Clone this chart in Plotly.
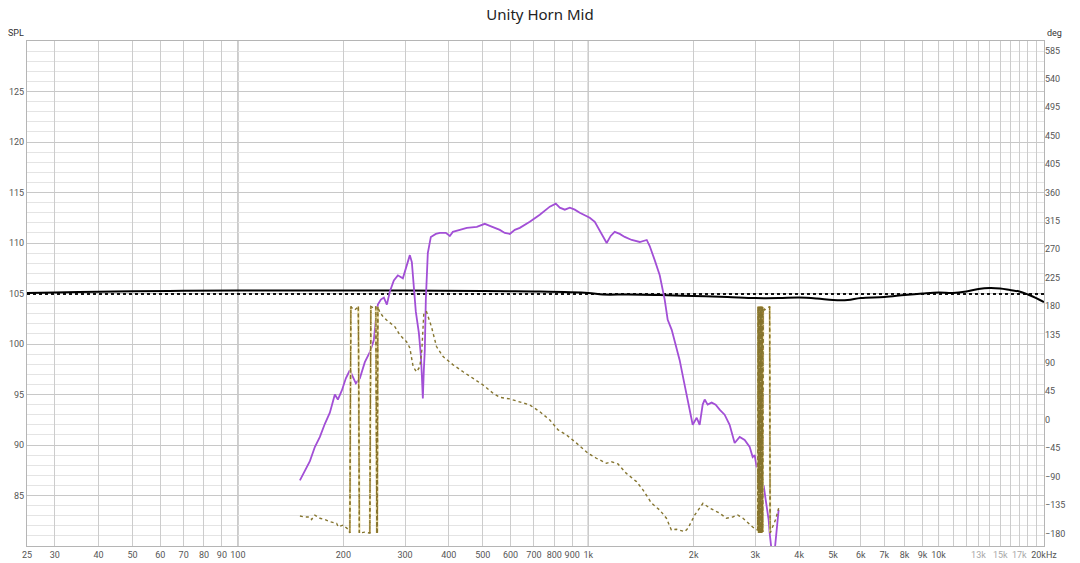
import plotly.graph_objects as go

# ---------------- data ----------------
spl_freq = [150.3, 155.3, 160.5, 165.8, 171.4, 177.1, 183.0, 189.1, 192.9, 198.0,
            203.3, 208.7, 212.9, 217.1, 222.9, 230.3, 238.0, 244.4, 247.6, 250.9,
            255.9, 261.0, 266.2, 271.5, 278.7, 286.1, 295.7, 303.6, 309.6, 313.7,
            317.8, 322.0, 328.5, 332.8, 335.0, 337.2, 339.4, 341.6, 343.9, 346.2,
            348.4, 355.4, 367.3, 377.0, 392.2, 402.6, 410.7, 430.0, 450.2, 480.8,
            506.7, 523.6, 541.1, 559.2, 577.9, 597.2, 617.2, 637.8, 681.1, 727.4,
            776.8, 808.0, 829.5, 857.2, 885.8, 915.4, 945.9, 1010, 1044, 1078,
            1107, 1129, 1159, 1190, 1230, 1271, 1331, 1403, 1469, 1498,
            1548, 1600, 1653, 1686, 1731, 1777, 1824, 1873, 1910, 1948,
            1987, 2040, 2080, 2122, 2150, 2192, 2251, 2311, 2372, 2451,
            2533, 2618, 2706, 2796, 2890, 2947, 2986, 3026, 3065, 3086,
            3106, 3147, 3168, 3210, 3231, 3273, 3295, 3339, 3405, 3450, 3496]
spl_db = [86.5, 87.5, 88.4, 89.8, 90.8, 92.1, 93.2, 95.0, 94.5, 95.4,
          96.6, 97.4, 96.8, 96.1, 96.6, 98.2, 99.2, 100.4, 102.4, 103.9,
          104.4, 104.6, 103.9, 105.2, 106.3, 106.8, 106.5, 107.7, 108.8, 108.1,
          105.3, 103.2, 101.1, 98.9, 96.9, 94.6, 97.4, 99.4, 104.4, 106.8,
          109.0, 110.6, 110.9, 111.0, 111.0, 110.7, 111.1, 111.3, 111.5, 111.6,
          111.9, 111.7, 111.5, 111.3, 111.0, 110.9, 111.3, 111.5, 112.1, 112.8,
          113.6, 113.9, 113.5, 113.3, 113.5, 113.3, 113.0, 112.5, 112.1, 111.3,
          110.5, 110.0, 110.7, 111.1, 110.9, 110.6, 110.3, 110.1, 110.3, 109.7,
          108.3, 106.8, 104.4, 102.4, 101.4, 99.9, 98.4, 96.4, 95.0, 93.5,
          92.0, 92.7, 92.0, 94.0, 94.5, 94.0, 94.2, 94.0, 93.5, 93.0,
          92.0, 90.2, 90.8, 90.5, 89.8, 88.8, 89.0, 87.8, 88.0, 86.5,
          87.5, 85.3, 86.0, 84.6, 83.9, 82.6, 81.3, 79.5, 79.5, 81.3, 83.6]

phase_freq = [150.3, 155.3, 160.5, 162.3, 165.8, 171.4, 177.1, 183.0, 191.3, 193.3,
              199.7, 206.4, 208.7, 210.1, 212.9, 215.7, 218.5, 220.7, 222.2, 230.3,
              238.0, 239.6, 244.4, 247.6, 249.2, 250.0, 250.9, 254.2, 259.2, 265.6,
              280.5, 289.9, 302.9, 309.6, 316.4, 323.5, 330.6, 335.0, 339.4, 345.5,
              357.0, 368.9, 385.3, 411.5, 439.4, 469.2, 501.1, 535.1, 559.2, 597.2,
              637.8, 681.1, 727.4, 776.8, 820.3, 866.9, 925.7, 998.7, 1055, 1127,
              1165, 1216, 1285, 1373, 1433, 1515, 1600, 1672, 1727, 1785,
              1885, 1926, 2013, 2126, 2222, 2372, 2479, 2584, 2670, 2760,
              2947, 3045, 3055, 3065, 3075, 3086, 3096, 3106, 3116, 3127,
              3137, 3147, 3158, 3189, 3231, 3273, 3295, 3306, 3361, 3427, 3496]
phase_deg = [-152.5, -154, -154, -158, -151, -156, -158, -161.5, -164, -169.5,
             -167, -173.5, -179.5, 179.5, 175.5, 174, 177, 179.5, -179.5, -178,
             -179.5, 179.5, 177, 179.5, -179.5, -179, 179, 170, 164, 158,
             147.4, 134.3, 123.7, 113.7, 84, 76, 84, 110, 169, 171,
             147, 116, 100, 87, 76, 66, 55, 42, 35.6, 33,
             28.6, 23.4, 12.8, -0.4, -16, -24, -37, -53, -61, -69,
             -66.5, -70, -85, -98, -111, -132, -143, -156, -174.6, -173.5,
             -177.3, -172, -151, -132.4, -140, -148, -156, -154, -151, -155.6,
             -170, -175, 179, -179, 179, -179, 179, -179, 179, -179,
             179, -178, 178, 174, 176, 178, 179.5, -179.5, -170, -158, -140]

ref_freq = [25, 30, 40, 50, 70, 100, 150, 200, 300, 500, 700, 1000, 1100, 1300,
            1600, 2000, 2500, 3000, 3500, 4000, 4500, 5000, 5500, 6000, 7000,
            8000, 9000, 10000, 11000, 12000, 13000, 14000, 15000, 16000, 17000,
            18000, 19000, 20000]
ref_db = [105.05, 105.1, 105.18, 105.22, 105.27, 105.3, 105.3, 105.3, 105.3, 105.25,
          105.2, 105.05, 104.9, 104.9, 104.85, 104.75, 104.65, 104.55, 104.55, 104.6,
          104.5, 104.35, 104.35, 104.55, 104.65, 104.85, 105.0, 105.1, 105.05, 105.2,
          105.45, 105.55, 105.5, 105.35, 105.2, 104.9, 104.55, 104.15]

target_freq = [25, 20000]
target_db = [104.95, 104.95]

x_tick_vals = [25, 30, 40, 50, 60, 70, 80, 90, 100, 200, 300, 400, 500, 600, 700,
               800, 900, 1000, 2000, 3000, 4000, 5000, 6000, 7000, 8000, 9000,
               10000, 11000, 12000, 13000, 14000, 15000, 16000, 17000, 18000,
               19000, 20000]
GRAY = '<span style="color:#a8a8a8">{}</span>'
x_tick_text = ['25', '30', '40', '50', '60', '70', '80', '90', '100', '200', '300',
               '400', '500', '600', '700', '800', '900', '1k', '2k', '3k', '4k',
               '5k', '6k', '7k', '8k', '9k', '10k', '', '', GRAY.format('13k'), '',
               GRAY.format('15k'), '', GRAY.format('17k'), '', '', '20kHz']
decades = [100, 1000, 10000]
spl_ticks = [85, 90, 95, 100, 105, 110, 115, 120, 125]
deg_ticks = [-180, -135, -90, -45, 0, 45, 90, 135, 180, 225, 270, 315, 360,
             405, 450, 495, 540, 585]

# ---------------- figure ----------------
FONT = "Roboto"
TICKFONT = dict(family=FONT, size=9, color="#555555")
OLIVE = "#85752f"
W, H = 1080, 563

fig = go.Figure()

fig.add_trace(go.Scatter(x=target_freq, y=target_db, mode="lines",
                         line=dict(color="#111111", width=2, dash="dot"),
                         showlegend=False, hoverinfo="skip"))
fig.add_trace(go.Scatter(x=ref_freq, y=ref_db, mode="lines",
                         line=dict(color="#000000", width=2, shape="spline"),
                         showlegend=False, hoverinfo="skip"))

# phase wrap segments (derived from the phase data)
wx, wy = [], []
for i in range(len(phase_deg) - 1):
    if abs(phase_deg[i + 1] - phase_deg[i]) > 180:
        wx += [phase_freq[i], phase_freq[i + 1], None]
        wy += [phase_deg[i], phase_deg[i + 1], None]

fig.add_trace(go.Scatter(x=wx, y=wy, mode="lines", yaxis="y2",
                         line=dict(color="#eee2b0", width=2.2),
                         showlegend=False, hoverinfo="skip"))
fig.add_trace(go.Scatter(x=wx, y=wy, mode="lines", yaxis="y2",
                         line=dict(color="#8a6d22", width=1.2, dash="4px,3px"),
                         showlegend=False, hoverinfo="skip"))
fig.add_trace(go.Scatter(x=phase_freq, y=phase_deg, mode="lines", yaxis="y2",
                         line=dict(color=OLIVE, width=1.4, dash="dot"),
                         showlegend=False, hoverinfo="skip"))

fig.add_trace(go.Scatter(x=spl_freq, y=spl_db, mode="lines",
                         line=dict(color="#a24fd6", width=1.8),
                         showlegend=False, hoverinfo="skip"))

shapes = [dict(type="line", xref="x", yref="paper", x0=d, x1=d, y0=0, y1=1,
               line=dict(color="#8f8f8f", width=1), layer="below") for d in decades]

fig.update_layout(
    width=W, height=H,
    margin=dict(l=27, r=36, t=41, b=17, autoexpand=False),
    paper_bgcolor="white", plot_bgcolor="white",
    font=dict(family=FONT, size=9, color="#555555"),
    title=dict(text="Unity Horn Mid", x=0.5, xanchor="center",
               y=1 - 15 / H, yref="container", yanchor="middle",
               font=dict(family="Noto Sans", size=15, color="#222222")),
    xaxis=dict(type="log", range=[1.39794, 4.30103], automargin=False,
               tickmode="array", tickvals=x_tick_vals, ticktext=x_tick_text,
               tickangle=0,
               showgrid=True, gridcolor="#cccccc", gridwidth=1,
               showline=True, linecolor="#b5b5b5", mirror=True,
               ticks="", zeroline=False, tickfont=TICKFONT),
    yaxis=dict(range=[80, 130], tickmode="array", tickvals=spl_ticks,
               automargin=False,
               showgrid=True, gridcolor="#c8c8c8",
               minor=dict(dtick=1, tick0=80, showgrid=True, gridcolor="#e4e4e4"),
               showline=True, linecolor="#b5b5b5", mirror=True, ticks="",
               zeroline=False, tickfont=TICKFONT),
    yaxis2=dict(range=[-200, 600], overlaying="y", side="right", automargin=False,
                tickmode="array", tickvals=deg_ticks, showgrid=False,
                zeroline=False, ticks="", tickfont=TICKFONT),
    shapes=shapes,
    annotations=[
        dict(text="SPL", xref="paper", yref="paper", x=0, y=1, xanchor="right",
             yanchor="bottom", xshift=-1, yshift=1, showarrow=False,
             font=dict(family=FONT, size=9, color="#333333")),
        dict(text="deg", xref="paper", yref="paper", x=1, y=1, xanchor="left",
             yanchor="bottom", xshift=1, yshift=1, showarrow=False,
             font=dict(family=FONT, size=9, color="#333333")),
    ],
)

# remove the default 8px page margin so the figure fills the window exactly
fig.write_html("out.html", config={"displayModeBar": False},
               post_script="document.body.style.margin='0';")
